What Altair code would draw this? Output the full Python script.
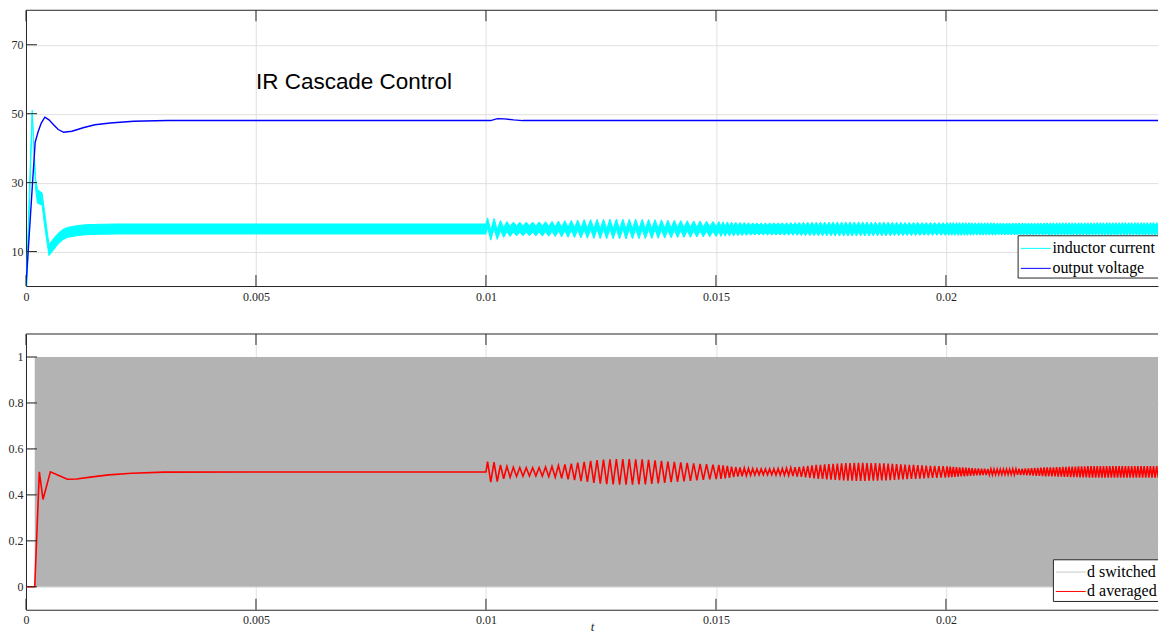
import altair as alt
import pandas as pd

# ---------------- layout constants (styles, not data) ----------------
W, H = 1133, 276
SERIF = "Liberation Serif"
SANS = "Liberation Sans"
INK = "#262626"
GRID = "#e0e0e0"
TICK_LEN = 11

# ---------------- axis values ----------------
X_MAX = 0.02461
x_ticks = [0, 0.005, 0.01, 0.015, 0.02]
top_y_ticks = [10, 30, 50, 70]
bot_y_ticks = [0, 0.2, 0.4, 0.6, 0.8, 1]

# ---------------- inductor current band (low / high of switching ripple) ----------------
il_t = [0, 0.00002, 0.00008, 0.000135, 0.00021, 0.00025, 0.00035, 0.0004, 0.0005,
        0.0006, 0.0007, 0.0008, 0.0009, 0.0011, 0.0013, 0.0016, 0.002, 0.01]
il_lo = [0, 0, 25, 50, 28, 24, 23.5, 18, 8.8,
         10.5, 12.2, 13.4, 14.1, 14.6, 14.9, 15.0, 15.1, 15.1]
il_hi = [0, 6, 30, 51, 31, 28, 27, 22, 12.0,
         13.8, 15.3, 16.4, 17.0, 17.5, 17.8, 17.9, 18.0, 18.0]
IL_LO_BASE, IL_HI_BASE = 15.1, 18.0

# ---------------- output voltage ----------------
vo_t = [0, 0.00005, 0.0001, 0.00015, 0.0002, 0.00026, 0.00033, 0.00041, 0.0005, 0.0006,
        0.0007, 0.00082, 0.001, 0.00126, 0.0015, 0.00183, 0.00234, 0.00307, 0.004,
        0.0100, 0.0101, 0.01025, 0.0104, 0.0106, 0.0108, 0.0248]
vo_v = [0, 10.5, 21, 31.5, 41.7, 44.6, 47.2, 49.0, 48.2, 46.8,
        45.4, 44.6, 44.9, 46.0, 46.8, 47.3, 47.8, 48.0, 48.0,
        48.0, 48.0, 48.55, 48.5, 48.2, 48.0, 48.0]

# ---------------- duty cycle ----------------
da_t = [0, 0.00019, 0.00029, 0.00037, 0.00053, 0.0007, 0.0009, 0.0011, 0.0014,
        0.0018, 0.0023, 0.003, 0.01]
da_v = [0, 0, 0.5, 0.38, 0.5, 0.485, 0.468, 0.469, 0.477,
        0.487, 0.494, 0.499, 0.5]
D_BASE = 0.5
ds_start = [0.00019]
ds_end = [0.0248]
ds_low = [0]
ds_high = [1]

# ---------------- oscillation after the step at t = 0.01 ----------------
seg_start0 = 0.0100
seg_period = [0.000140, 0.000092, 0.000068]
# half peak-to-peak of d averaged, one value per cycle
d_amp = [
    [0.045, 0.042, 0.030, 0.024, 0.020, 0.019, 0.018, 0.018, 0.019,
     0.021, 0.024, 0.028, 0.032, 0.036, 0.040, 0.044, 0.048, 0.051,
     0.053, 0.055, 0.056, 0.056, 0.056, 0.055, 0.054, 0.052,
     0.050, 0.048, 0.045, 0.043, 0.041, 0.039, 0.037, 0.035, 0.033, 0.031],
    [0.030, 0.028, 0.026, 0.023, 0.021, 0.019, 0.017, 0.015,
     0.014, 0.013, 0.013, 0.013, 0.013, 0.014, 0.014, 0.015,
     0.016, 0.018, 0.020, 0.022, 0.024, 0.026, 0.028, 0.030,
     0.031, 0.033, 0.034, 0.035, 0.036, 0.037, 0.038, 0.038,
     0.039, 0.039, 0.039, 0.038, 0.038, 0.038, 0.037, 0.037,
     0.036, 0.035, 0.034, 0.033, 0.032, 0.031, 0.030, 0.029,
     0.028, 0.027, 0.026, 0.026, 0.025, 0.025],
    [0.024, 0.023, 0.022, 0.021, 0.020, 0.019, 0.018, 0.017,
     0.016, 0.015, 0.015, 0.014, 0.014, 0.013, 0.013, 0.012,
     0.012, 0.012, 0.012, 0.012, 0.012, 0.013, 0.013, 0.014,
     0.014, 0.015, 0.015, 0.016, 0.017, 0.017, 0.018, 0.019,
     0.019, 0.020, 0.020, 0.021, 0.021, 0.022, 0.022, 0.023,
     0.023, 0.023, 0.024, 0.024, 0.024, 0.025, 0.025, 0.025,
     0.025, 0.025, 0.025, 0.025, 0.025, 0.025, 0.025, 0.025,
     0.025, 0.025, 0.025, 0.025, 0.025, 0.025, 0.025, 0.025,
     0.025, 0.025, 0.025, 0.025, 0.025, 0.025, 0.025],
]
# shift of the inductor-current band, one value per cycle
il_amp = [
    [1.8, 1.6, 1.0, 0.7, 0.55, 0.5, 0.5, 0.55, 0.6,
     0.65, 0.75, 0.85, 0.95, 1.05, 1.15, 1.25, 1.3, 1.35,
     1.4, 1.4, 1.45, 1.45, 1.4, 1.4, 1.35, 1.3,
     1.25, 1.2, 1.1, 1.05, 1.0, 0.95, 0.9, 0.85, 0.8, 0.75],
    [0.7, 0.65, 0.6, 0.55, 0.5, 0.45, 0.4, 0.35,
     0.3, 0.3, 0.3, 0.3, 0.3, 0.3, 0.3, 0.35,
     0.35, 0.4, 0.4, 0.45, 0.45, 0.5, 0.5, 0.5,
     0.55, 0.55, 0.55, 0.6, 0.6, 0.6, 0.6, 0.6,
     0.6, 0.6, 0.6, 0.6, 0.55, 0.55, 0.55, 0.55,
     0.5, 0.5, 0.5, 0.5, 0.45, 0.45, 0.45, 0.45,
     0.4, 0.4, 0.4, 0.4, 0.4, 0.4],
    [0.4, 0.4, 0.4, 0.4, 0.4, 0.4, 0.4, 0.4,
     0.35, 0.35, 0.35, 0.35, 0.35, 0.35, 0.35, 0.35,
     0.3, 0.3, 0.3, 0.3, 0.3, 0.3, 0.3, 0.3,
     0.3, 0.3, 0.3, 0.3, 0.3, 0.3, 0.3, 0.3,
     0.35, 0.35, 0.35, 0.35, 0.35, 0.35, 0.35, 0.35,
     0.35, 0.35, 0.35, 0.35, 0.35, 0.35, 0.35, 0.35,
     0.4, 0.4, 0.4, 0.4, 0.4, 0.4, 0.4, 0.4,
     0.4, 0.4, 0.4, 0.4, 0.4, 0.4, 0.4, 0.4,
     0.4, 0.4, 0.4, 0.4, 0.4, 0.4, 0.4],
]

note_t = [0.005]
note_y = [57.2]
note_text = ["IR Cascade Control"]

top_legend_labels = ["inductor current", "output voltage"]
top_legend_colors = ["#00ffff", "#0000ff"]
bot_legend_labels = ["d switched", "d averaged"]
bot_legend_colors = ["#c8c8c8", "#ff0000"]

# ---------------- build tables ----------------
osc_t, d_shift, i_shift = [], [], []
start = seg_start0
for period, da_list, ia_list in zip(seg_period, d_amp, il_amp):
    for k, (a, b) in enumerate(zip(da_list, ia_list)):
        osc_t += [start + (k + 0.25) * period, start + (k + 0.75) * period]
        d_shift += [a, -a]
        i_shift += [b, -b]
    start = start + len(da_list) * period

il_df = pd.DataFrame({
    "t": il_t + osc_t,
    "lo": il_lo + [IL_LO_BASE + s for s in i_shift],
    "hi": il_hi + [IL_HI_BASE + s for s in i_shift],
})
il_df = il_df[il_df.t <= X_MAX + 0.0002]
vo_df = pd.DataFrame({"t": vo_t, "v": vo_v})
da_df = pd.DataFrame({"t": da_t + osc_t, "v": da_v + [D_BASE + s for s in d_shift]})
da_df = da_df[da_df.t <= X_MAX + 0.0002]
ds_df = pd.DataFrame({"t": ds_start, "t2": ds_end, "v": ds_low, "hi": ds_high})
note_df = pd.DataFrame({"t": note_t, "v": note_y, "txt": note_text})
xt_df = pd.DataFrame({"t": x_ticks})
one = pd.DataFrame({"k": [0]})

xs = alt.Scale(domain=[0, X_MAX], nice=False, zero=False)
ys_top = alt.Scale(domain=[0, 80], nice=False, zero=False)
ys_bot = alt.Scale(domain=[-0.1, 1.1], nice=False, zero=False)


def x_axis(with_title):
    kw = dict(values=x_ticks, format="~g", ticks=False, labelFlush=False, labelOverlap=False,
              labelFont=SERIF, labelFontSize=12, labelColor=INK, labelPadding=5,
              domainColor=INK, domainWidth=1, grid=True, gridColor=GRID, gridWidth=1)
    if with_title:
        kw.update(titleFont=SERIF, titleFontStyle="italic", titleFontSize=13,
                  titleFontWeight="normal", titleColor=INK, titlePadding=-5)
    return alt.Axis(**kw)


def y_axis(vals, fmt):
    return alt.Axis(values=vals, format=fmt, ticks=False, labelFont=SERIF, labelFontSize=12,
                    labelColor=INK, labelPadding=3, domainColor=INK, domainWidth=1,
                    grid=True, gridColor=GRID, gridWidth=1)


AX_TOP = x_axis(False)
AX_BOT = x_axis(True)
AY_TOP = y_axis(top_y_ticks, "d")
AY_BOT = y_axis(bot_y_ticks, "~g")


def X(field, bottom):
    if bottom:
        return alt.X(field, scale=xs, axis=AX_BOT, title="t")
    return alt.X(field, scale=xs, axis=AX_TOP, title=None)


def Y(field, bottom):
    return alt.Y(field, scale=ys_bot if bottom else ys_top,
                 axis=AY_BOT if bottom else AY_TOP, title=None)


def frame_layers(y_vals, bottom):
    yt_df = pd.DataFrame({"v": y_vals})
    layers = []
    layers.append(alt.Chart(xt_df).mark_rule(color=INK, strokeWidth=1).encode(
        x=X("t:Q", bottom), y=alt.value(0), y2=alt.value(TICK_LEN)))
    layers.append(alt.Chart(xt_df).mark_rule(color=INK, strokeWidth=1).encode(
        x=X("t:Q", bottom), y=alt.value(H), y2=alt.value(H - TICK_LEN)))
    layers.append(alt.Chart(yt_df).mark_rule(color=INK, strokeWidth=1).encode(
        y=Y("v:Q", bottom), x=alt.value(0), x2=alt.value(TICK_LEN)))
    layers.append(alt.Chart(one).mark_rule(color=INK, strokeWidth=1).encode(
        x=alt.value(0), x2=alt.value(W), y=alt.value(0)))
    return layers


def legend_layers(labels, colors, box_x, box_y, box_y2, row_y, line_x, text_x):
    # open-ended box: the right edge of the legend lies beyond the visible figure
    layers = [
        alt.Chart(one).mark_rect(fill="white").encode(
            x=alt.value(box_x), x2=alt.value(W), y=alt.value(box_y), y2=alt.value(box_y2)),
        alt.Chart(one).mark_rule(color=INK, strokeWidth=1).encode(
            x=alt.value(box_x), x2=alt.value(W), y=alt.value(box_y)),
        alt.Chart(one).mark_rule(color=INK, strokeWidth=1).encode(
            x=alt.value(box_x), x2=alt.value(W), y=alt.value(box_y2)),
        alt.Chart(one).mark_rule(color=INK, strokeWidth=1).encode(
            x=alt.value(box_x), y=alt.value(box_y), y2=alt.value(box_y2)),
    ]
    for lab, col, ry in zip(labels, colors, row_y):
        layers.append(alt.Chart(one).mark_rule(color=col, strokeWidth=1).encode(
            x=alt.value(line_x), x2=alt.value(line_x + 30), y=alt.value(ry)))
        layers.append(alt.Chart(one).mark_text(
            text=lab, align="left", baseline="middle", font=SERIF, fontSize=16, color="black",
            limit=W - text_x, ellipsis=" "
        ).encode(x=alt.value(text_x), y=alt.value(ry)))
    return layers


# ---------------- top panel ----------------
cyan = alt.Chart(il_df).mark_area(color="#00ffff", stroke="#00ffff", strokeWidth=1, clip=True).encode(
    x=X("t:Q", False), y=Y("lo:Q", False), y2="hi:Q",
)
blue = alt.Chart(vo_df).mark_line(color="#0000ff", strokeWidth=1.4, clip=True).encode(
    x=X("t:Q", False), y=Y("v:Q", False),
)
note = alt.Chart(note_df).mark_text(align="left", baseline="alphabetic", font=SANS,
                                    fontSize=22.5, color="black").encode(
    x=X("t:Q", False), y=Y("v:Q", False), text="txt:N",
)
top = alt.layer(
    cyan, blue, note,
    *frame_layers(top_y_ticks, False),
    *legend_layers(top_legend_labels, top_legend_colors, 993, 225.7, 268, [238.3, 258.3], 995.7, 1027.3),
).properties(width=W, height=H)

# ---------------- bottom panel ----------------
gray = alt.Chart(ds_df).mark_rect(color="#b3b3b3", clip=True).encode(
    x=X("t:Q", True), x2="t2:Q", y=Y("v:Q", True), y2="hi:Q",
)
red = alt.Chart(da_df).mark_line(color="#ff0000", strokeWidth=1.6, clip=True).encode(
    x=X("t:Q", True), y=Y("v:Q", True),
)
bot = alt.layer(
    gray, red,
    *frame_layers(bot_y_ticks, True),
    *legend_layers(bot_legend_labels, bot_legend_colors, 1028.3, 226, 267.7, [238.3, 257.7], 1030.7, 1062),
).properties(width=W, height=H)

chart = alt.vconcat(top, bot, spacing=31).properties(
    padding={"left": 0, "top": 1, "right": 0, "bottom": 0}
).configure_view(stroke=None)

chart.save("out.html", embed_options={"renderer": "svg", "actions": False})
